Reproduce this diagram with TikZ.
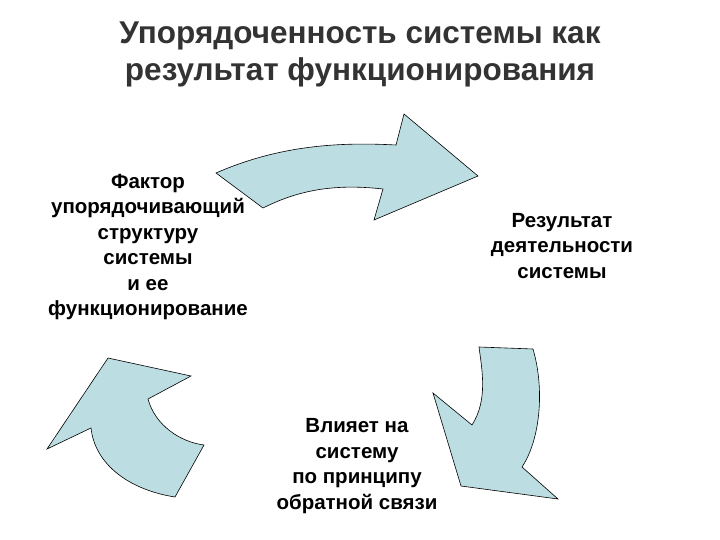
\documentclass[tikz,border=0pt]{standalone}
\usepackage{fontspec}
\setmainfont{Liberation Sans}
\begin{document}
\begin{tikzpicture}[x=1pt,y=-1pt,
  arr/.style={draw=black,fill={rgb,255:red,188;green,222;blue,226},line width=0.6pt,line join=miter},
  lbl/.style={align=center,font=\fontsize{20.5}{25.5}\selectfont\bfseries},
  ttl/.style={align=center,font=\fontsize{31.5}{37}\selectfont\bfseries,text=black!80}]
\useasboundingbox (0,0) rectangle (720,540);
\node[ttl] (title) at (360,54) {Упорядоченность системы как\\результат функционирования};
\node[lbl] (f) at (148,247) {Фактор\\упорядочивающий\\структуру\\системы\\и ее\\функционирование};
\node[lbl] (r) at (562,246) {Результат\\деятельности\\системы};
\node[lbl] (v) at (357,466) {Влияет на\\систему\\по принципу\\обратной связи};
\draw[arr] (216,173) .. controls (280,145) and (340,142) .. (396,145) -- (404,114) -- (478,176) -- (374,220) -- (383,189) .. controls (330,183) and (295,192) .. (263,208) -- cycle;
\draw[arr] (479,347) -- (533,349) .. controls (545,390) and (540,440) .. (522,467) -- (558,499) -- (461,486) -- (433,393) -- (472,425) .. controls (488,400) and (482,370) .. (479,347) -- cycle;
\draw[arr] (108,358) -- (191,376) -- (148,399) .. controls (155,425) and (180,442) .. (204,445) -- (175,497) .. controls (130,490) and (95,465) .. (91,428) -- (47,449) -- cycle;
\end{tikzpicture}
\end{document}
